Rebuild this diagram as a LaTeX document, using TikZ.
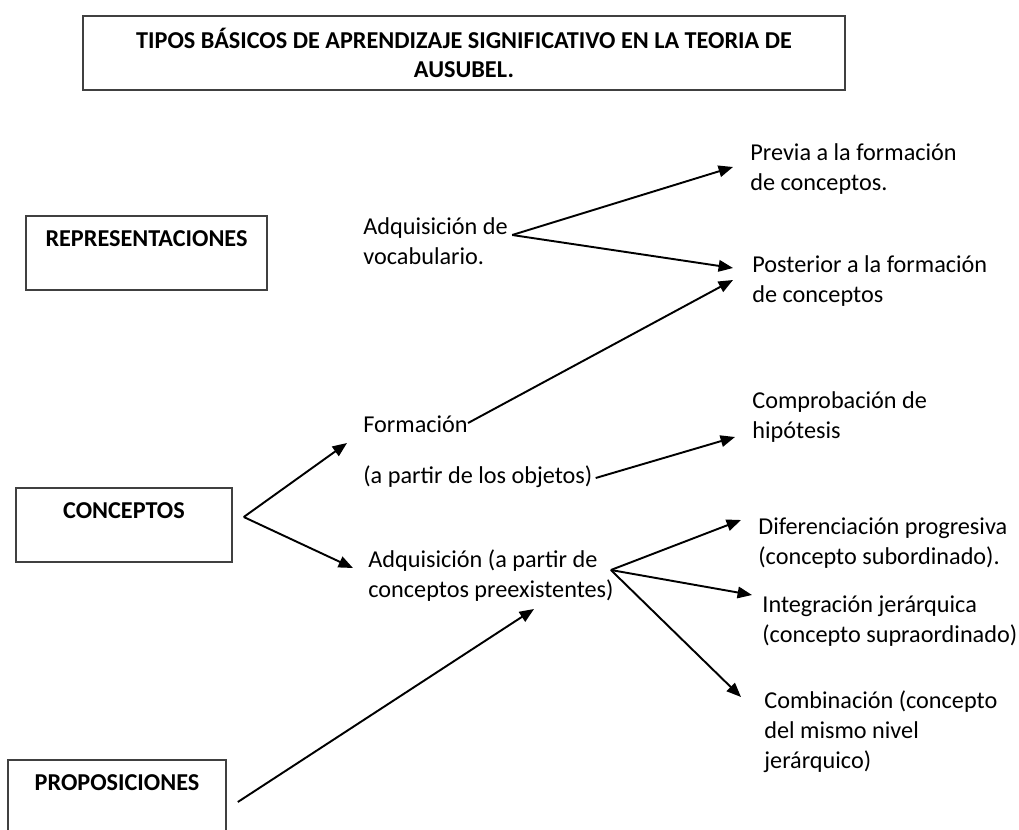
\documentclass[tikz,border=0pt]{standalone}
\usepackage{fontspec}
\setmainfont{Carlito}
\usetikzlibrary{arrows.meta,positioning}

\begin{document}
\begin{tikzpicture}[x=0.52pt,y=-0.52pt,
  font=\fontsize{12.6}{15.6}\selectfont,
  caja/.style={draw=black!75,line width=0.8pt,minimum height=38.5pt,
               inner sep=0pt,align=center,font=\fontsize{12.6}{15.2}\selectfont\bfseries},
  txt/.style={anchor=north west,inner sep=0pt,align=left},
  flecha/.style={-{Triangle[length=7.5pt,width=6pt]},line width=1pt}
]
\path[use as bounding box,clip] (0,0) rectangle (1019,829);
% Cajas
\node[caja,minimum width=396.2pt] (titulo) at (464,53)
  {TIPOS BÁSICOS DE APRENDIZAJE SIGNIFICATIVO EN LA TEORIA DE\\AUSUBEL.};
\node[caja,minimum width=125.3pt] (repr) at (146.5,253) {REPRESENTACIONES\\~};
\node[caja,minimum width=112.3pt] (conc) at (124,525) {CONCEPTOS\\~};
\node[caja,minimum width=113.4pt] (prop) at (117,797) {PROPOSICIONES\\~};
% Textos
\node[txt] (vocab) at (363,217) {Adquisición de\\vocabulario.};
\node[txt] (previa) at (750,143) {Previa a la formación\\de conceptos.};
\node[txt] (post) at (752,255) {Posterior a la formación\\de conceptos};
\node[txt] (form) at (363,415) {Formación};
\node[txt] (objetos) at (363,465) {(a partir de los objetos)};
\node[txt] (comp) at (752,391) {Comprobación de\\hipótesis};
\node[txt] (adq) at (368,549) {Adquisición (a partir de\\conceptos preexistentes)};
\node[txt] (dif) at (758,517) {Diferenciación progresiva\\(concepto subordinado).};
\node[txt] (integ) at (762,595) {Integración jerárquica\\(concepto supraordinado)};
\node[txt] (comb) at (764,690) {Combinación (concepto\\del mismo nivel\\jerárquico)};
% Flechas
\draw[flecha] ([shift={(4,18)}]vocab.north east) -- ([shift={(-17,24)}]previa.north west);
\draw[flecha] ([shift={(4,18)}]vocab.north east) -- ([shift={(-19,13)}]post.north west);
\draw[flecha] ([shift={(0,8)}]form.north east) -- ([shift={(-19,25)}]post.north west);
\draw[flecha] ([shift={(3,13)}]objetos.north east) -- ([shift={(-17,46)}]comp.north west);
\draw[flecha] ([shift={(11,-8)}]conc.east) -- ([shift={(-16,28)}]form.north west);
\draw[flecha] ([shift={(11,-8)}]conc.east) -- ([shift={(-15,19)}]adq.north west);
\draw[flecha] ([shift={(-3,21)}]adq.north east) -- ([shift={(-17,3)}]dif.north west);
\draw[flecha] ([shift={(-3,21)}]adq.north east) -- ([shift={(-10,0)}]integ.north west);
\draw[flecha] ([shift={(-3,21)}]adq.north east) -- ([shift={(-23,7)}]comb.north west);
\draw[flecha] ([shift={(11,5)}]prop.east) -- ([shift={(166,60)}]adq.north west);
\end{tikzpicture}
\end{document}
